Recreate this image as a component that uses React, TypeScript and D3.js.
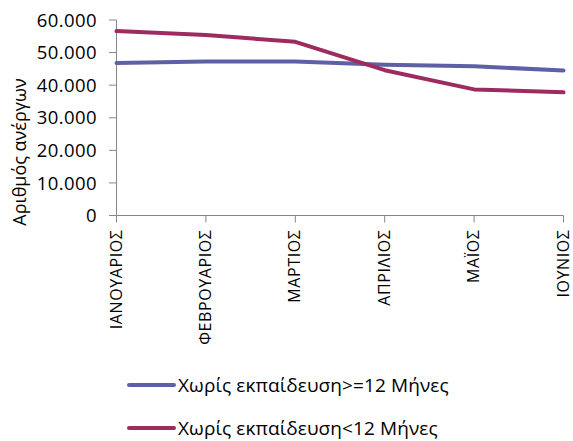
import React from "react";
import * as d3 from "d3";

const months = ["ΙΑΝΟΥΑΡΙΟΣ", "ΦΕΒΡΟΥΑΡΙΟΣ", "ΜΑΡΤΙΟΣ", "ΑΠΡΙΛΙΟΣ", "ΜΑΪΟΣ", "ΙΟΥΝΙΟΣ"];
const seriesLong = [46800, 47300, 47300, 46300, 45800, 44500];
const seriesShort = [56600, 55400, 53300, 44600, 38700, 37800];
const seriesNames = ["Χωρίς εκπαίδευση>=12 Μήνες", "Χωρίς εκπαίδευση<12 Μήνες"];
const yTicks = [0, 10000, 20000, 30000, 40000, 50000, 60000];
const yTitle = "Αριθμός ανέργων";

const colors = ["#5e60a6", "#9e2b5f"];
const font = "'Open Sans', sans-serif";

export default function App() {
  const W = 573, H = 441;
  const x = d3.scalePoint<string>().domain(months).range([116.5, 563.5]);
  const y = d3.scaleLinear().domain([0, 60000]).range([215.5, 20]);
  const fmt = (v: number) => d3.format(",")(v).replace(/,/g, ".");
  const line = d3.line<number>().x((_, i) => x(months[i])!).y((d) => y(d));
  const all = [seriesLong, seriesShort];
  return (
    <svg width={W} height={H} style={{ position: "absolute", left: 0, top: 0, background: "#fff" }}>
      {/* y axis */}
      <line x1={116.5} x2={116.5} y1={y(60000)} y2={y(0)} stroke="#868686" strokeWidth={1} />
      {yTicks.map((t) => (
        <g key={t}>
          <line x1={109} x2={116.5} y1={y(t)} y2={y(t)} stroke="#868686" />
          <text x={97} y={y(t)} dy="0.36em" textAnchor="end" fontFamily={font} fontSize={18.5} letterSpacing={0.4} fill="#000">
            {fmt(t)}
          </text>
        </g>
      ))}
      {/* x axis */}
      <line x1={116.5} x2={563.5} y1={y(0)} y2={y(0)} stroke="#868686" />
      {months.map((m) => (
        <g key={m}>
          <line x1={x(m)!} x2={x(m)!} y1={y(0)} y2={y(0) + 7} stroke="#868686" />
          <text
            transform={`translate(${x(m)!},${y(0) + 14}) rotate(-90)`}
            dy="0.32em"
            textAnchor="end"
            fontFamily={font}
            fontSize={16}
            letterSpacing={0.6}
            fill="#000"
          >
            {m}
          </text>
        </g>
      ))}
      {/* y title */}
      <text
        transform={`translate(20,152) rotate(-90)`}
        dy="0.36em"
        textAnchor="middle"
        fontFamily={font}
        fontSize={18}
        fill="#000"
      >
        {yTitle}
      </text>
      {/* lines */}
      {all.map((s, i) => (
        <path key={i} d={line(s)!} fill="none" stroke={colors[i]} strokeWidth={4} strokeLinejoin="round" strokeLinecap="round" />
      ))}
      {/* legend */}
      {seriesNames.map((n, i) => (
        <g key={n}>
          <line x1={129} x2={174} y1={385 + i * 43} y2={385 + i * 43} stroke={colors[i]} strokeWidth={4} strokeLinecap="round" />
          <text x={178} y={385 + i * 43} dy="0.36em" fontFamily={font} fontSize={19} letterSpacing={0.1} fill="#000">
            {n}
          </text>
        </g>
      ))}
    </svg>
  );
}
